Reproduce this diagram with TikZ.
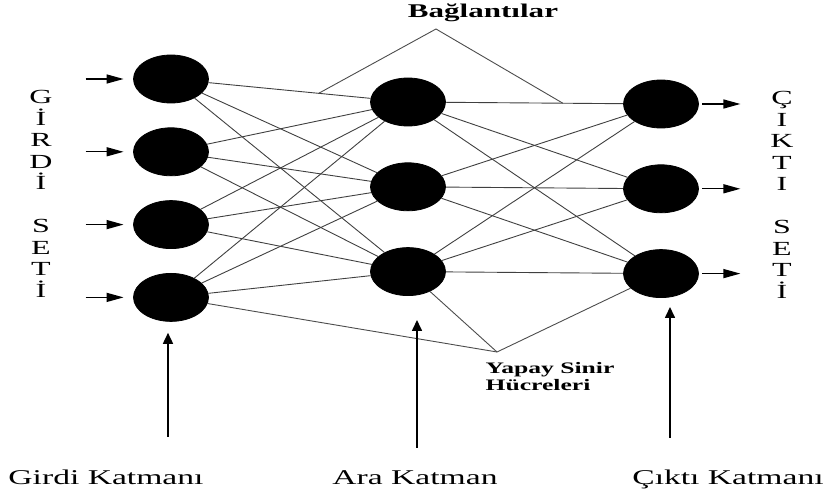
\documentclass[tikz,border=0pt]{standalone}
\usepackage{fontspec}
\setmainfont{Liberation Serif}
\usetikzlibrary{arrows.meta,positioning,shapes.geometric}

\begin{document}
\begin{tikzpicture}[x=0.5pt, y=-0.5pt,
  neuron/.style={draw=black, fill=black, ellipse, minimum width=37.5pt,
    minimum height=24pt, inner sep=0pt},
  conn/.style={black!75, line width=0.45pt},
  pointer/.style={black!70, line width=0.45pt},
  arr/.style={-{Triangle[length=8.5pt, width=4.5pt]}, line width=0.7pt},
  uparr/.style={-{Triangle[length=5.5pt, width=5pt]}, line width=0.8pt},
  wide/.style={xscale=1.6, transform shape, inner sep=0pt},
  lbl/.style={wide, font=\fontsize{10.5}{12}\selectfont},
  vtxt/.style={wide, align=center, font=\fontsize{10}{10.75}\selectfont},
  tag/.style={wide, align=left, font=\fontsize{8}{8.5}\selectfont\bfseries}]
  \useasboundingbox (0,0) rectangle (826,496);

  % girdi katmani
  \node[neuron] (i1) at (171,79) {};
  \node[neuron, below=12pt of i1] (i2) {};
  \node[neuron, below=12pt of i2] (i3) {};
  \node[neuron, below=12pt of i3] (i4) {};
  % ara katman
  \node[neuron] (h1) at (408,102) {};
  \node[neuron, below=18pt of h1] (h2) {};
  \node[neuron, below=18pt of h2] (h3) {};
  % cikti katmani
  \node[neuron] (o1) at (661,104) {};
  \node[neuron, below=18pt of o1] (o2) {};
  \node[neuron, below=18pt of o2] (o3) {};

  % baglantilar
  \draw[conn] (i1) -- coordinate[pos=0.68] (bl) (h1);
  \draw[conn] (i1) -- (h2);
  \draw[conn] (i1) -- (h3);
  \draw[conn] (i2) -- (h1);
  \draw[conn] (i2) -- (h2);
  \draw[conn] (i2) -- (h3);
  \draw[conn] (i3) -- (h1);
  \draw[conn] (i3) -- (h2);
  \draw[conn] (i3) -- (h3);
  \draw[conn] (i4) -- (h1);
  \draw[conn] (i4) -- (h2);
  \draw[conn] (i4) -- (h3);
  \draw[conn] (h1) -- coordinate[pos=0.66] (br) (o1);
  \draw[conn] (h1) -- (o2);
  \draw[conn] (h1) -- (o3);
  \draw[conn] (h2) -- (o1);
  \draw[conn] (h2) -- (o2);
  \draw[conn] (h2) -- (o3);
  \draw[conn] (h3) -- (o1);
  \draw[conn] (h3) -- (o2);
  \draw[conn] (h3) -- (o3);

  % giris ve cikis oklari
  \coordinate[left=23.75pt of i1] (in1);
  \coordinate[left=23.75pt of i2] (in2);
  \coordinate[left=23.75pt of i3] (in3);
  \coordinate[left=23.75pt of i4] (in4);
  \draw[arr, shorten >=4.75pt] (in1) -- (i1);
  \draw[arr, shorten >=4.75pt] (in2) -- (i2);
  \draw[arr, shorten >=4.75pt] (in3) -- (i3);
  \draw[arr, shorten >=4.75pt] (in4) -- (i4);
  \coordinate[right=20.75pt of o1] (out1);
  \coordinate[right=20.75pt of o2] (out2);
  \coordinate[right=20.75pt of o3] (out3);
  \draw[arr, shorten <=1.75pt] (o1) -- (out1);
  \draw[arr, shorten <=1.75pt] (o2) -- (out2);
  \draw[arr, shorten <=1.75pt] (o3) -- (out3);

  % etiketler
  \node[vtxt, anchor=north] (girdiset) at (41,90) {G\\İ\\R\\D\\İ\\[10.75pt]S\\E\\T\\İ};
  \node[vtxt, anchor=north] (ciktiset) at (782,91) {Ç\\I\\K\\T\\I\\[10.75pt]S\\E\\T\\İ};
  \node[tag, anchor=base, font=\fontsize{9.7}{10}\selectfont\bfseries] (bagl) at (483,18) {Bağlantılar};
  \coordinate (btop) at (436,29);
  \draw[pointer] (bl) -- (btop) -- (br);
  \node[tag, anchor=north west] (ysh) at (485,362) {Yapay Sinir\\Hücreleri};
  \coordinate (ytop) at (497,352);
  \draw[pointer] (i4) -- (ytop) -- (o3);
  \draw[pointer] (h3) -- (ytop);

  % katman oklari
  \coordinate (gk) at (168,437);
  \coordinate (ak) at (417,448);
  \coordinate (ck) at (670,438);
  \draw[uparr] (gk) -- ([yshift=-5.5pt]i4.south -| gk);
  \draw[uparr] (ak) -- ([yshift=-12pt]h3.south -| ak);
  \draw[uparr] (ck) -- ([yshift=-4.5pt]o3.south -| ck);
  \node[lbl, anchor=base] (girdi) at (106,485) {Girdi Katmanı};
  \node[lbl, anchor=base] (ara) at (415,485) {Ara Katman};
  \node[lbl, anchor=base] (cikti) at (728,485) {Çıktı Katmanı};
\end{tikzpicture}
\end{document}
